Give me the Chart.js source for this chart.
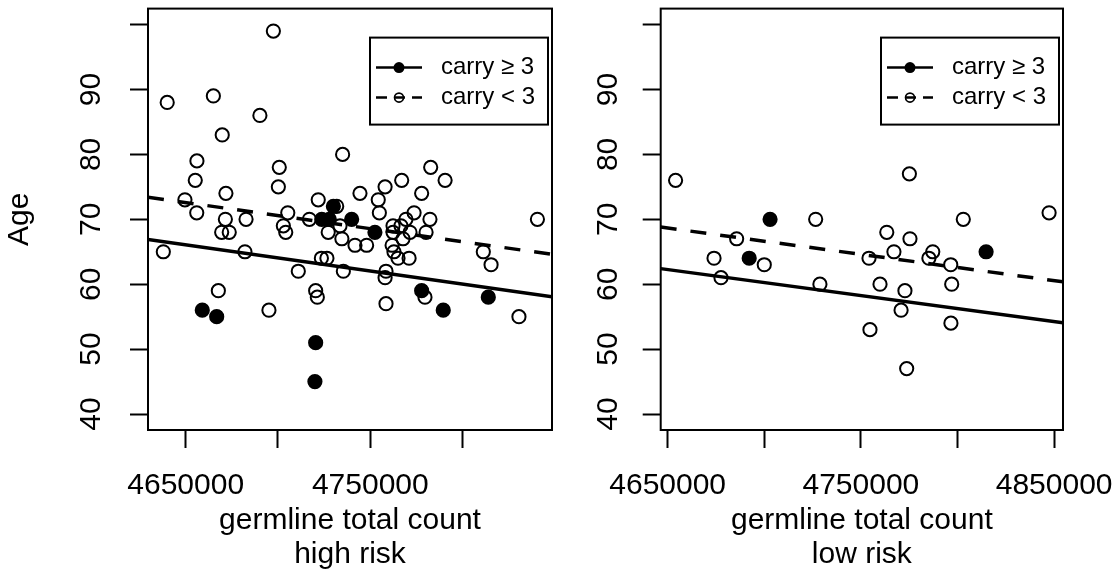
<!DOCTYPE html>
<html>
<head>
<meta charset="utf-8">
<script src="https://cdn.jsdelivr.net/npm/chart.js@4.4.0/dist/chart.umd.min.js"></script>
<style>
  html, body { margin: 0; padding: 0; background: #fff; overflow: hidden; }
  #wrap { position: relative; width: 1117px; height: 576px; }
  canvas { position: absolute; top: 0; }
  #highRisk { left: 0; }
  #lowRisk { left: 590px; }
</style>
</head>
<body>
<div id="wrap">
  <canvas id="highRisk" width="590" height="576"></canvas>
  <canvas id="lowRisk" width="550" height="576"></canvas>
</div>
<script>
// ---- data ----
const ageRange = [37.54, 102.46];
const yTicks = [40, 50, 60, 70, 80, 90, 100];
const yTickLabels = ['40', '50', '60', '70', '80', '90', ''];

// high risk panel
const highRange = [4629600, 4848400];
const highXTicks = [4650000, 4700000, 4750000, 4800000];
const highXTickLabels = ['4650000', '', '4750000', ''];
const highCarryX = [4659000, 4666800, 4720400, 4720000, 4723700, 4727800, 4730000, 4739900, 4752500, 4777800, 4789500, 4813900];
const highCarryAge = [56, 55, 51, 45, 70, 70, 72, 70, 68, 59, 56, 58];
const highNonX = [4697500, 4640000, 4665000, 4690200, 4669800, 4735000, 4656100, 4700700, 4655200, 4700200,
  4671800, 4649600, 4721800, 4656000, 4671500, 4682700, 4705300, 4717000, 4731800, 4669500,
  4673600, 4702900, 4704200, 4727200, 4733600, 4734600, 4637900, 4682100, 4711000, 4723500,
  4726500, 4735400, 4667700, 4695100, 4720400, 4721300, 4744400, 4754300, 4758000, 4767000,
  4777800, 4782700, 4790500, 4754900, 4773700, 4782300, 4762300, 4769300, 4766600, 4762300,
  4771500, 4780200, 4767700, 4761800, 4762800, 4765000, 4771000, 4758500, 4758000, 4758500,
  4779600, 4811200, 4815400, 4830500, 4840500, 4741700, 4748000];
const highNonAge = [99, 88, 89, 86, 83, 80, 79, 78, 76, 75,
  74, 73, 73, 71, 70, 70, 71, 70, 72, 68,
  68, 69, 68, 68, 69, 67, 65, 65, 62, 64,
  64, 62, 59, 56, 59, 58, 74, 73, 75, 76,
  74, 78, 76, 71, 71, 70, 69, 70, 69, 68,
  68, 68, 67, 66, 65, 64, 64, 62, 61, 57,
  58, 65, 63, 55, 70, 66, 66];
const highFitCarry = [66.9, 58.05];
const highFitNon = [73.4, 64.6];

// low risk panel
const lowRange = [4646400, 4854600];
const lowXTicks = [4650000, 4700000, 4750000, 4800000, 4850000];
const lowXTickLabels = ['4650000', '', '4750000', '', '4850000'];
const lowCarryX = [4703000, 4692200, 4814800];
const lowCarryAge = [70, 64, 65];
const lowNonX = [4654100, 4726600, 4685700, 4674000, 4700000, 4677600, 4728800, 4775100, 4847400, 4803000,
  4763400, 4775400, 4767100, 4787200, 4785200, 4754200, 4796500, 4759900, 4772800, 4797000,
  4770800, 4796600, 4754700, 4773700];
const lowNonAge = [76, 70, 67, 64, 63, 61, 60, 77, 71, 70,
  68, 67, 65, 65, 64, 64, 63, 60, 59, 60,
  56, 54, 53, 47];
const lowFitCarry = [62.4, 54.05];
const lowFitNon = [68.8, 60.36];

const legendLabels = ['carry \u2265 3', 'carry < 3'];

Chart.defaults.font.family = "'Liberation Sans', Arial, sans-serif";
Chart.defaults.color = '#000';

const toPoints = (xs, ys) => xs.map((x, i) => ({ x: x, y: ys[i] }));

// box around the plot area plus the R-style legend
const rFrame = {
  id: 'rFrame',
  afterDraw(chart) {
    const a = chart.chartArea;
    const ctx = chart.ctx;
    ctx.save();
    ctx.strokeStyle = '#000';
    ctx.lineWidth = 2;
    ctx.strokeRect(a.left, a.top, a.right - a.left, a.bottom - a.top);

    const w = 178, h = 87;
    const x0 = a.right - 4 - w, y0 = a.top + 29;
    ctx.strokeRect(x0, y0, w, h);

    ctx.font = "24px 'Liberation Sans', Arial, sans-serif";
    ctx.textBaseline = 'middle';
    ctx.fillStyle = '#000';
    // row 1: solid line with filled dot
    let ry = y0 + 30;
    ctx.lineWidth = 2.5;
    ctx.beginPath();
    ctx.moveTo(x0 + 6, ry);
    ctx.lineTo(x0 + 52, ry);
    ctx.stroke();
    ctx.beginPath();
    ctx.arc(x0 + 29, ry, 5.5, 0, Math.PI * 2);
    ctx.fill();
    ctx.fillText(legendLabels[0], x0 + 71, ry);
    // row 2: dashed line with open dot
    ry = y0 + 60;
    ctx.setLineDash([11, 7]);
    ctx.beginPath();
    ctx.moveTo(x0 + 6, ry);
    ctx.lineTo(x0 + 52, ry);
    ctx.stroke();
    ctx.setLineDash([]);
    ctx.lineWidth = 1.6;
    ctx.beginPath();
    ctx.arc(x0 + 29, ry, 4.5, 0, Math.PI * 2);
    ctx.stroke();
    ctx.fillText(legendLabels[1], x0 + 71, ry);
    ctx.restore();
  }
};

function makePanel(id, cfg) {
  const fitData = (ys) => [{ x: cfg.range[0], y: ys[0] }, { x: cfg.range[1], y: ys[1] }];
  return new Chart(document.getElementById(id), {
    type: 'scatter',
    data: {
      datasets: [
        {
          data: fitData(cfg.fitCarry),
          showLine: true,
          borderColor: '#000',
          borderWidth: 3.5,
          pointRadius: 0,
          order: 0
        },
        {
          data: fitData(cfg.fitNon),
          showLine: true,
          borderColor: '#000',
          borderWidth: 3.5,
          borderDash: [16, 14],
          pointRadius: 0,
          order: 1
        },
        {
          data: toPoints(cfg.carryX, cfg.carryAge),
          pointRadius: 6.6,
          pointBorderWidth: 2,
          pointBackgroundColor: '#000',
          pointBorderColor: '#000',
          order: 2
        },
        {
          data: toPoints(cfg.nonX, cfg.nonAge),
          pointRadius: 6.6,
          pointBorderWidth: 2,
          pointBackgroundColor: 'rgba(0,0,0,0)',
          pointBorderColor: '#000',
          order: 3
        }
      ]
    },
    options: {
      responsive: false,
      animation: false,
      devicePixelRatio: 1,
      events: [],
      layout: { padding: { top: 8, right: cfg.padRight, left: 0, bottom: 0 } },
      plugins: { legend: { display: false }, tooltip: { enabled: false } },
      scales: {
        x: {
          type: 'linear',
          min: cfg.range[0],
          max: cfg.range[1],
          afterBuildTicks: (s) => { s.ticks = cfg.xTicks.map(v => ({ value: v })); },
          afterFit: (s) => { s.height = 146; s.paddingLeft = 0; s.paddingRight = 0; },
          border: { display: false },
          grid: { display: true, drawOnChartArea: false, drawTicks: true, tickLength: 18, tickWidth: 2, tickColor: '#000' },
          ticks: {
            autoSkip: false, maxRotation: 0, minRotation: 0, padding: 20,
            color: '#000', font: { size: 30 },
            callback: (v) => { const i = cfg.xTicks.indexOf(v); return i < 0 ? '' : cfg.xTickLabels[i]; }
          },
          title: {
            display: true, text: cfg.xTitle, color: '#000',
            font: { size: 30, lineHeight: 34 / 30 },
            padding: { top: 0, bottom: 4 }
          }
        },
        y: {
          type: 'linear',
          min: ageRange[0],
          max: ageRange[1],
          afterBuildTicks: (s) => { s.ticks = yTicks.map(v => ({ value: v })); },
          afterFit: (s) => { s.width = cfg.yWidth; s.paddingTop = 0; s.paddingBottom = 0; },
          border: { display: false },
          grid: { display: true, drawOnChartArea: false, drawTicks: true, tickLength: 18, tickWidth: 2, tickColor: '#000' },
          ticks: {
            minRotation: 90, maxRotation: 90, crossAlign: 'center', padding: cfg.yPad,
            color: '#000', font: { size: 30 },
            callback: (v) => { const i = yTicks.indexOf(v); return i < 0 ? '' : yTickLabels[i]; }
          },
          title: {
            display: cfg.yTitle !== '', text: cfg.yTitle, color: '#000',
            font: { size: 30 }, padding: { top: 2, bottom: 0 }
          }
        }
      }
    },
    plugins: [rFrame]
  });
}

makePanel('highRisk', {
  range: highRange, xTicks: highXTicks, xTickLabels: highXTickLabels,
  carryX: highCarryX, carryAge: highCarryAge, nonX: highNonX, nonAge: highNonAge,
  fitCarry: highFitCarry, fitNon: highFitNon,
  xTitle: ['germline total count', 'high risk'], yTitle: 'Age',
  padRight: 38, yWidth: 148, yPad: 21.6
});

makePanel('lowRisk', {
  range: lowRange, xTicks: lowXTicks, xTickLabels: lowXTickLabels,
  carryX: lowCarryX, carryAge: lowCarryAge, nonX: lowNonX, nonAge: lowNonAge,
  fitCarry: lowFitCarry, fitNon: lowFitNon,
  xTitle: ['germline total count', 'low risk'], yTitle: '',
  padRight: 77, yWidth: 70.7, yPad: 17.7
});
</script>
</body>
</html>
